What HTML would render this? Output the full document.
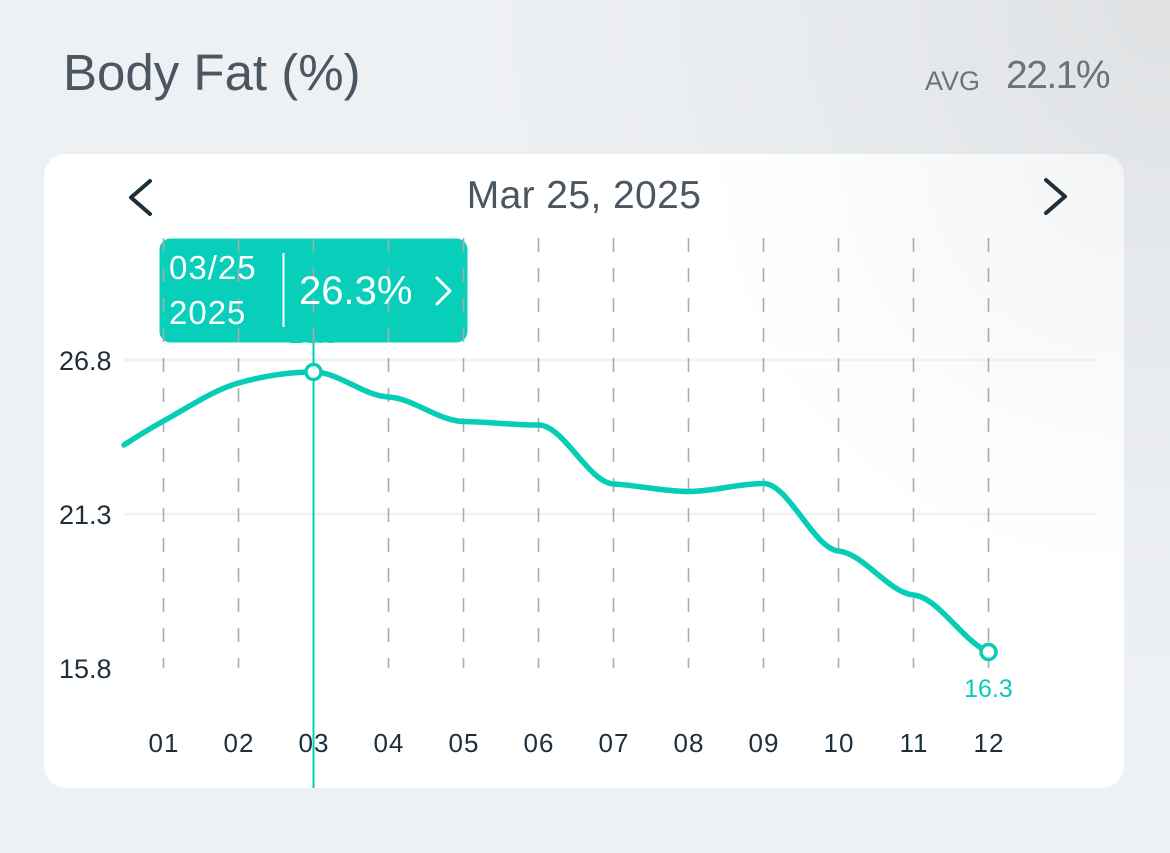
<!DOCTYPE html>
<html>
<head>
<meta charset="utf-8">
<style>
html,body{margin:0;padding:0;}
body{width:1170px;height:853px;overflow:hidden;background:#eef1f4;font-family:"Liberation Sans",sans-serif;}
svg{display:block;}
</style>
</head>
<body>
<svg width="1170" height="853" viewBox="0 0 1170 853" xmlns="http://www.w3.org/2000/svg">
  <defs>
    <radialGradient id="bg" cx="1170" cy="0" r="700" gradientUnits="userSpaceOnUse">
      <stop offset="0" stop-color="#dfe1e3"/>
      <stop offset="0.5" stop-color="#e8ebee"/>
      <stop offset="1" stop-color="#eef1f4"/>
    </radialGradient>
    <radialGradient id="cardg" cx="1124" cy="154" r="420" gradientUnits="userSpaceOnUse">
      <stop offset="0" stop-color="#f3f4f5"/>
      <stop offset="1" stop-color="#ffffff"/>
    </radialGradient>
  </defs>
  <rect x="0" y="0" width="1170" height="853" fill="url(#bg)"/>

  <!-- Header -->
  <text x="63" y="90" font-family="Liberation Sans, sans-serif" font-size="51" fill="#4a5661">Body Fat (%)</text>
  <text x="925" y="90" font-family="Liberation Sans, sans-serif" font-size="27" fill="#6b747c">AVG</text>
  <text x="1006" y="88" font-family="Liberation Sans, sans-serif" font-size="39" letter-spacing="-1.5" fill="#69737b">22.1%</text>

  <!-- Card -->
  <rect x="44" y="154" width="1080" height="634" rx="22" ry="22" fill="url(#cardg)"/>

  <!-- Nav -->
  <polyline points="150,181 131,197.5 150,214" fill="none" stroke="#1d2f3b" stroke-width="4" stroke-linecap="round" stroke-linejoin="round"/>
  <polyline points="1046,180 1065,196.5 1046,213" fill="none" stroke="#1d2f3b" stroke-width="4" stroke-linecap="round" stroke-linejoin="round"/>
  <text x="584" y="208" text-anchor="middle" font-family="Liberation Sans, sans-serif" font-size="39" letter-spacing="0.4" fill="#4a5661">Mar 25, 2025</text>

  <!-- Horizontal grid -->
  <line x1="124" y1="360" x2="1097" y2="360" stroke="#eef1f4" stroke-width="2.5"/>
  <line x1="124" y1="514" x2="1097" y2="514" stroke="#eef1f4" stroke-width="2.5"/>

  <!-- Y labels -->
  <g font-family="Liberation Sans, sans-serif" font-size="27" fill="#1e2f3b">
    <text x="59" y="370">26.8</text>
    <text x="59" y="524">21.3</text>
    <text x="59" y="678">15.8</text>
  </g>

  <!-- hidden data label behind tooltip -->
  <text x="313.5" y="343" text-anchor="middle" font-family="Liberation Sans, sans-serif" font-size="25" fill="#06cdb6">26.3</text>

  <!-- Tooltip box -->
  <rect x="159.5" y="238.5" width="308" height="104" rx="11" ry="11" fill="#07cfb9"/>

  <!-- Vertical dashed grid -->
  <g stroke="#a9abad" stroke-width="1.6" stroke-dasharray="14 16">
    <line x1="163.5" y1="238" x2="163.5" y2="668"/>
    <line x1="238.5" y1="238" x2="238.5" y2="668"/>
    <line x1="313.5" y1="238" x2="313.5" y2="668"/>
    <line x1="388.5" y1="238" x2="388.5" y2="668"/>
    <line x1="463.5" y1="238" x2="463.5" y2="668"/>
    <line x1="538.5" y1="238" x2="538.5" y2="668"/>
    <line x1="613.5" y1="238" x2="613.5" y2="668"/>
    <line x1="688.5" y1="238" x2="688.5" y2="668"/>
    <line x1="763.5" y1="238" x2="763.5" y2="668"/>
    <line x1="838.5" y1="238" x2="838.5" y2="668"/>
    <line x1="913.5" y1="238" x2="913.5" y2="668"/>
    <line x1="988.5" y1="238" x2="988.5" y2="668"/>
  </g>

  <!-- Tooltip contents -->
  <g font-family="Liberation Sans, sans-serif" fill="#ffffff">
    <text x="169" y="279" font-size="33" letter-spacing="1">03/25</text>
    <text x="169" y="324" font-size="33" letter-spacing="1">2025</text>
    <text x="299" y="304" font-size="40">26.3%</text>
  </g>
  <line x1="283.5" y1="253" x2="283.5" y2="327" stroke="#ffffff" stroke-width="2"/>
  <polyline points="437,278 450,291 437,304" fill="none" stroke="#ffffff" stroke-width="3" stroke-linecap="round" stroke-linejoin="round"/>

  <!-- Cursor line -->
  <line x1="313.5" y1="342" x2="313.5" y2="788" stroke="#06cdb6" stroke-width="2"/>

  <!-- Series -->
  <path d="M124,445
           C137.2,436.4 150.3,428.3 163.5,421
           C188.5,407.3 213.5,390 238.5,383
           C263.5,376 288.5,372 313.5,372
           C338.5,372 363.5,395.8 388.5,397
           C413.5,398.3 438.5,421 463.5,421.5
           C488.5,422 513.5,425 538.5,425
           C563.5,425 588.5,482.8 613.5,484
           C638.5,485.3 663.5,491.5 688.5,491.5
           C713.5,491.5 738.5,483.5 763.5,483.5
           C788.5,483.5 813.5,548.5 838.5,551
           C863.5,553.5 888.5,592.5 913.5,595
           C938.5,597.5 963.5,642 988.5,652"
        fill="none" stroke="#06cdb6" stroke-width="5.5" stroke-linecap="round" stroke-linejoin="round"/>

  <!-- Markers -->
  <circle cx="313.5" cy="372" r="7.5" fill="#ffffff" stroke="#06cdb6" stroke-width="3.5"/>
  <circle cx="988.5" cy="652" r="7.5" fill="#ffffff" stroke="#06cdb6" stroke-width="3.5"/>

  <text x="988.5" y="697" text-anchor="middle" font-family="Liberation Sans, sans-serif" font-size="25" fill="#06cdb6">16.3</text>

  <!-- X labels -->
  <g font-family="Liberation Sans, sans-serif" font-size="26" fill="#1e2f3b" text-anchor="middle" letter-spacing="1">
    <text x="164" y="752">01</text>
    <text x="239" y="752">02</text>
    <text x="314" y="752">03</text>
    <text x="389" y="752">04</text>
    <text x="464" y="752">05</text>
    <text x="539" y="752">06</text>
    <text x="614" y="752">07</text>
    <text x="689" y="752">08</text>
    <text x="764" y="752">09</text>
    <text x="839" y="752">10</text>
    <text x="914" y="752">11</text>
    <text x="989" y="752">12</text>
  </g>
</svg>
</body>
</html>
